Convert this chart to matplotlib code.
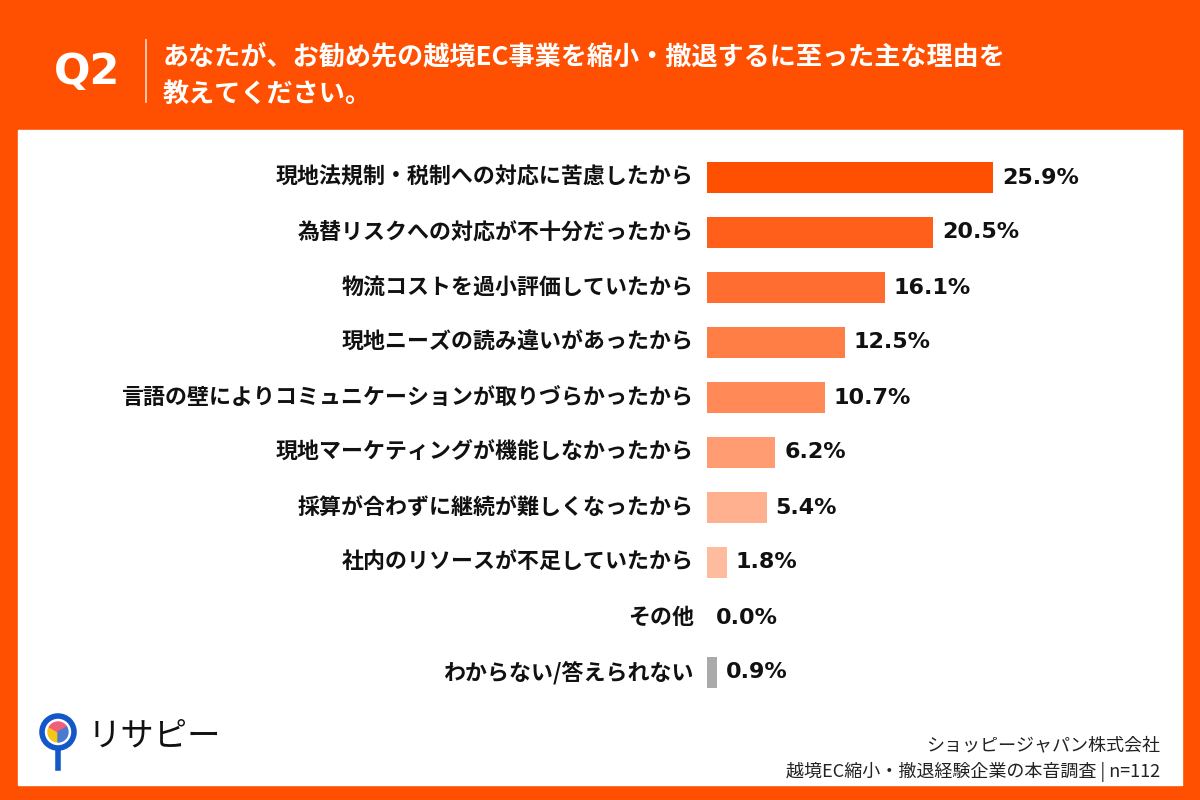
import numpy as np
import matplotlib.pyplot as plt
from matplotlib.patches import Rectangle, Circle, Wedge
from matplotlib.lines import Line2D

plt.rcParams['font.family'] = ['Noto Sans CJK JP', 'DejaVu Sans']

labels = [
    "現地法規制・税制への対応に苦慮したから",
    "為替リスクへの対応が不十分だったから",
    "物流コストを過小評価していたから",
    "現地ニーズの読み違いがあったから",
    "言語の壁によりコミュニケーションが取りづらかったから",
    "現地マーケティングが機能しなかったから",
    "採算が合わずに継続が難しくなったから",
    "社内のリソースが不足していたから",
    "その他",
    "わからない/答えられない",
]
values = [25.9, 20.5, 16.1, 12.5, 10.7, 6.2, 5.4, 1.8, 0.0, 0.9]
colors = ["#FF4F00", "#FF5F1A", "#FF6E30", "#FF7E46", "#FF8A58",
          "#FF9C72", "#FFB08E", "#FFBB9E", "#FFC4AA", "#AAAAAA"]

ORANGE = "#FF4F00"
W, H = 1200, 800

fig = plt.figure(figsize=(12, 8), dpi=100)
fig.patch.set_facecolor(ORANGE)

# white panel
bg = fig.add_axes([0, 0, 1, 1])
bg.set_xlim(0, W)
bg.set_ylim(H, 0)
bg.axis("off")
bg.add_patch(Rectangle((18, 130), 1164, 655, color="white", zorder=0))

# header
bg.text(87, 72, "Q2", color="white", fontsize=31, fontweight="bold",
        ha="center", va="center", family=["DejaVu Sans"])
bg.add_line(Line2D([146, 146], [40, 102], color="white", lw=1.2, alpha=0.8))
bg.text(163, 58, "あなたが、お勧め先の越境EC事業を縮小・撤退するに至った主な理由を",
        color="white", fontsize=18.8, fontweight="bold", va="center")
bg.text(163, 94, "教えてください。", color="white", fontsize=18.8,
        fontweight="bold", va="center")

# logo
cx, cy = 58, 732
bg.add_patch(Circle((cx, cy), 16, facecolor="white", edgecolor="#1457C8", lw=4, zorder=2))
bg.add_patch(Wedge((cx, cy), 10, 90, 210, color="#F5C518", zorder=3))
bg.add_patch(Wedge((cx, cy), 10, 210, 330, color="#F0607A", zorder=3))
bg.add_patch(Wedge((cx, cy), 10, 330, 450, color="#4A7BD0", zorder=3))
bg.add_line(Line2D([cx, cx], [750, 768], color="#1457C8", lw=4, zorder=2))
bg.text(88, 736, "リサピー", fontsize=24, color="#111111", va="center")

# footer
bg.text(1160, 745, "ショッピージャパン株式会社", fontsize=13, ha="right",
        va="center", color="#222222")
bg.text(1160, 772, "越境EC縮小・撤退経験企業の本音調査 | n=112", fontsize=13,
        ha="right", va="center", color="#222222")

# bar chart
px_per = 286 / 25.9
ax = fig.add_axes([707 / W, 100 / H, 40 * px_per / W, 550 / H])
ax.set_xlim(0, 40)
ax.set_ylim(len(values) - 0.5, -0.5)
ax.axis("off")
y = np.arange(len(values))
ax.barh(y, values, height=0.55, color=colors)
for i, (lab, v) in enumerate(zip(labels, values)):
    ax.text(-1.2, i, lab, ha="right", va="center", fontsize=15.8,
            fontweight="bold", color="#111111")
    ax.text(v + 0.8, i, f"{v:.1f}%", ha="left", va="center", fontsize=16,
            fontweight="bold", color="#111111", family=["DejaVu Sans"])

fig.savefig("out.png", dpi=100, facecolor=ORANGE)
